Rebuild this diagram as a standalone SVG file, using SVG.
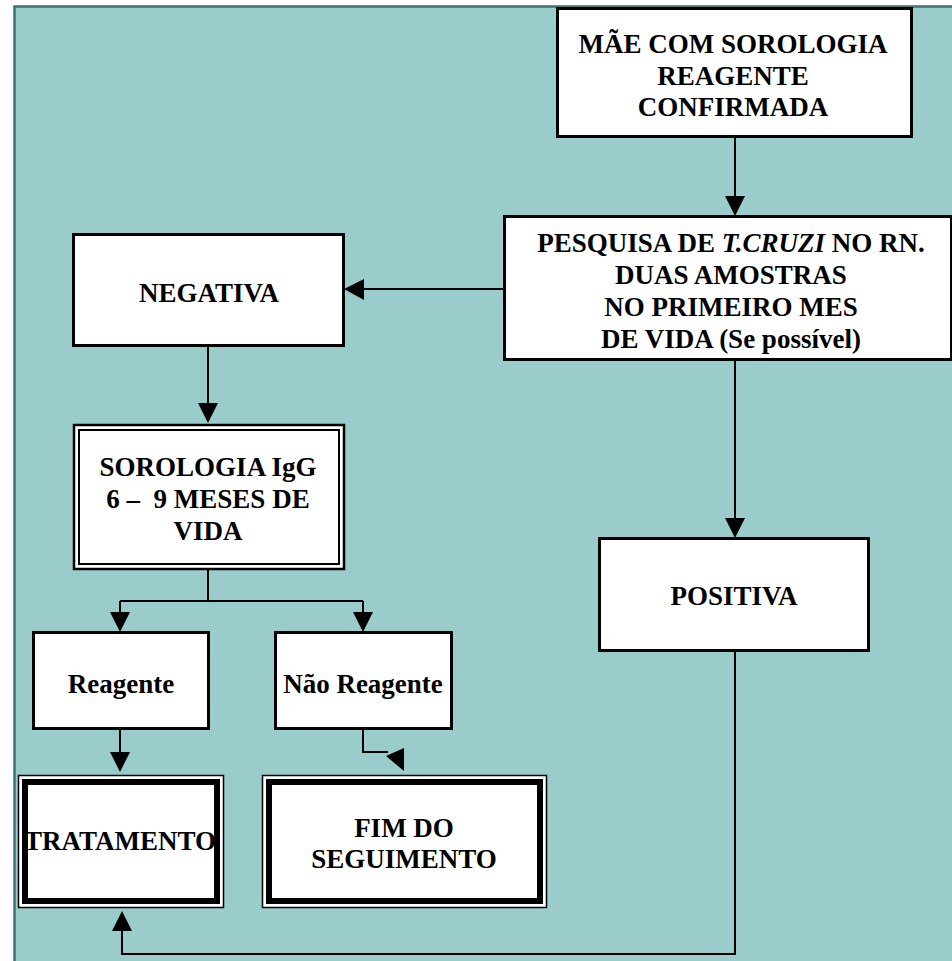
<svg xmlns="http://www.w3.org/2000/svg" width="952" height="961" viewBox="0 0 952 961">
<defs>
<style>
.box{fill:#fff;stroke:#000;stroke-width:3}
.t{font-family:"Liberation Serif","Times New Roman",serif;font-weight:bold;font-size:27px;fill:#000;text-anchor:middle}
.c{fill:none;stroke:#000;stroke-width:2}
.ah{fill:#000;stroke:none}
</style>
</defs>
<rect x="0" y="0" width="952" height="961" fill="#fff"/>
<rect x="14.5" y="6.5" width="960" height="980" fill="#9ACCCB" stroke="#3F7373" stroke-width="2.5"/>

<g id="connectors">
<path class="c" d="M735,137 V198"/>
<polygon class="ah" points="725,196 745,196 735,216"/>
<path class="c" d="M504,289 H362"/>
<polygon class="ah" points="364,279 364,300 344,289"/>
<path class="c" d="M735,360 V520"/>
<polygon class="ah" points="725,518 745,518 735,538"/>
<path class="c" d="M208,346 V405"/>
<polygon class="ah" points="198,403 218,403 208,423"/>
<path class="c" d="M208,569 V601 M120,601 H363 M120,601 V614 M363,601 V614"/>
<polygon class="ah" points="110,612 130,612 120,632"/>
<polygon class="ah" points="353,612 373,612 363,632"/>
<path class="c" d="M120,729 V757"/>
<polygon class="ah" points="110,752 130,752 120,772"/>
<path class="c" d="M363,729 V752 H388"/>
<polygon class="ah" points="386,756 404,748 404,771"/>
<path class="c" d="M735,651 V954 H122 V928"/>
<polygon class="ah" points="112,931 132,931 122,911"/>
</g>

<g id="mae">
<rect class="box" x="557.5" y="8.5" width="354" height="128"/>
<text class="t" x="733" y="53">MÃE COM SOROLOGIA</text>
<text class="t" x="733" y="85">REAGENTE</text>
<text class="t" x="733" y="116">CONFIRMADA</text>
</g>

<g id="pesquisa">
<rect class="box" x="504.5" y="216.5" width="447" height="143"/>
<text class="t" x="731" y="252">PESQUISA DE <tspan font-style="italic">T.CRUZI</tspan> NO RN.</text>
<text class="t" x="731" y="284">DUAS AMOSTRAS</text>
<text class="t" x="731" y="316">NO PRIMEIRO MES</text>
<text class="t" x="731" y="348">DE VIDA (Se possível)</text>
</g>

<g id="negativa">
<rect class="box" x="73.5" y="234.5" width="270" height="111"/>
<text class="t" x="209" y="302">NEGATIVA</text>
</g>

<g id="sorologia">
<rect x="74" y="425" width="270" height="144" fill="#fff" stroke="#000" stroke-width="2.5"/>
<rect x="79" y="430" width="260" height="134" fill="none" stroke="#000" stroke-width="2"/>
<text class="t" x="208" y="476">SOROLOGIA IgG</text>
<text class="t" x="208" y="508" xml:space="preserve">6 –  9 MESES DE</text>
<text class="t" x="208" y="540">VIDA</text>
</g>

<g id="reagente">
<rect class="box" x="33.5" y="632.5" width="175" height="96"/>
<text class="t" x="121" y="693">Reagente</text>
</g>

<g id="naoreagente">
<rect class="box" x="275.5" y="632.5" width="176" height="96"/>
<text class="t" x="363" y="693">Não Reagente</text>
</g>

<g id="positiva">
<rect class="box" x="599.5" y="538.5" width="269" height="112"/>
<text class="t" x="734" y="605">POSITIVA</text>
</g>

<g id="tratamento">
<rect x="18.5" y="775.5" width="205" height="132" fill="#fff" stroke="#000" stroke-width="1.5"/>
<text class="t" x="120" y="850">TRATAMENTO</text>
<rect x="25" y="782" width="192" height="119" fill="none" stroke="#000" stroke-width="6"/>
</g>

<g id="fim">
<rect x="262.5" y="775.5" width="284" height="132" fill="#fff" stroke="#000" stroke-width="1.5"/>
<rect x="269" y="782" width="271" height="119" fill="none" stroke="#000" stroke-width="6"/>
<text class="t" x="404" y="837">FIM DO</text>
<text class="t" x="404" y="868">SEGUIMENTO</text>
</g>
</svg>
